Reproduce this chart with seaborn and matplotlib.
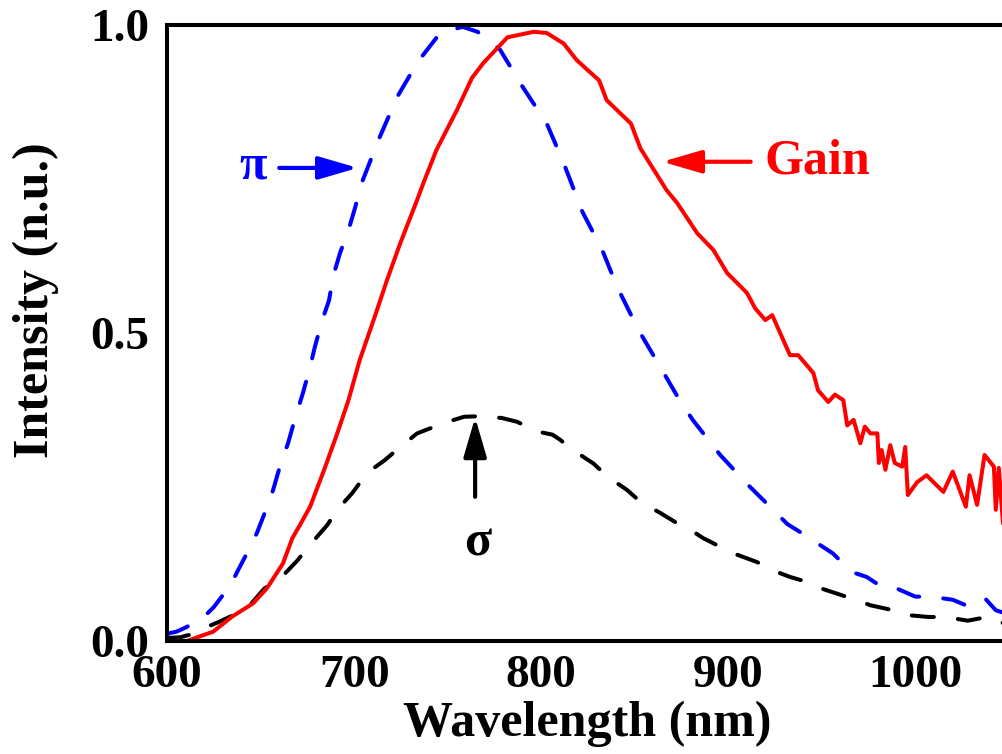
import matplotlib
matplotlib.use("Agg")
import matplotlib.pyplot as plt
import seaborn as sns

# ----- spectra -----
pi_wl = [600, 605, 610, 615, 619, 625, 630, 634, 638, 643, 648, 652.4, 656.7,
         660.6, 664.7, 668.5, 672.7, 676.5, 679, 683, 686.6, 689, 692.5, 697,
         700.5, 704, 713, 723, 734, 746, 758, 766, 778, 782, 790, 803, 812, 822,
         832.6, 840.6, 852, 863.6, 874, 881, 895.7, 910.7, 925, 931.5, 941, 949,
         956, 966, 974, 983, 991, 1000, 1008, 1020, 1027, 1037, 1043, 1048]
pi_int = [0.012, 0.015, 0.022, 0.03, 0.037, 0.055, 0.075, 0.091, 0.115, 0.144,
          0.175, 0.209, 0.245, 0.286, 0.321, 0.362, 0.403, 0.445, 0.477, 0.521,
          0.553, 0.594, 0.63, 0.667, 0.703, 0.743, 0.813, 0.883, 0.94, 0.987,
          0.997, 0.989, 0.96, 0.94, 0.90, 0.84, 0.776, 0.697, 0.635, 0.575,
          0.505, 0.445, 0.391, 0.359, 0.302, 0.253, 0.21, 0.19, 0.172, 0.156,
          0.142, 0.112, 0.104, 0.086, 0.084, 0.072, 0.072, 0.067, 0.058, 0.07,
          0.05, 0.045]

gain_wl = [610.7, 618, 624.6, 635, 646, 653.5, 662, 667, 671, 676.5, 684, 691,
           697, 703, 711, 717.6, 724.6, 733.7, 737, 744, 755, 763, 769, 782,
           796, 803, 812, 819, 831, 835, 848, 853, 867, 872.7, 883.4, 892,
           899.5, 904.8, 910, 914.4, 919.8, 923.5, 933, 937.4, 945.5, 948,
           953.5, 957, 961.5, 963.6, 967, 970.6, 973, 976, 979.7, 980.5, 982,
           984, 986.6, 989, 993, 994.6, 996, 1001, 1006, 1015, 1020, 1027,
           1029, 1033, 1037, 1042, 1043, 1044.6, 1047]
gain_int = [0.0, 0.008, 0.015, 0.04, 0.061, 0.086, 0.126, 0.167, 0.188, 0.218,
            0.278, 0.337, 0.391, 0.456, 0.526, 0.586, 0.645, 0.716, 0.743,
            0.797, 0.862, 0.914, 0.938, 0.98, 0.989, 0.987, 0.97, 0.943, 0.91,
            0.878, 0.84, 0.80, 0.732, 0.711, 0.662, 0.635, 0.597, 0.581, 0.565,
            0.54, 0.521, 0.529, 0.464, 0.464, 0.435, 0.407, 0.388, 0.40, 0.391,
            0.35, 0.359, 0.321, 0.348, 0.337, 0.337, 0.289, 0.31, 0.278, 0.318,
            0.289, 0.283, 0.315, 0.237, 0.258, 0.269, 0.242, 0.275, 0.218,
            0.269, 0.221, 0.302, 0.283, 0.213, 0.281, 0.185]

sigma_wl = [600, 607, 612, 619, 627, 639, 644, 652, 657, 660, 669.5, 677,
            685.6, 691, 699, 707, 716.6, 724.6, 733.7, 748, 758.8, 768, 779,
            787, 798, 806, 810, 817, 828, 835.8, 846, 853, 863.6, 871.7, 880,
            886.6, 897, 904.8, 915.5, 923.5, 933, 942, 949, 957, 968, 976, 988,
            996, 1007, 1015, 1020, 1028, 1038.5, 1045, 1048]
sigma_int = [0.005, 0.006, 0.01, 0.02, 0.03, 0.047, 0.057, 0.085, 0.095, 0.10,
             0.13, 0.158, 0.188, 0.213, 0.24, 0.273, 0.294, 0.315, 0.337,
             0.354, 0.364, 0.365, 0.362, 0.356, 0.34, 0.335, 0.327, 0.31,
             0.288, 0.266, 0.245, 0.226, 0.208, 0.193, 0.18, 0.167, 0.151,
             0.14, 0.128, 0.115, 0.104, 0.096, 0.086, 0.078, 0.067, 0.058,
             0.05, 0.042, 0.039, 0.039, 0.037, 0.033, 0.039, 0.031, 0.028]

x_ticks = [600, 700, 800, 900, 1000]
y_ticks = [0.0, 0.5, 1.0]

sns.set_style("white")
plt.rcParams['font.family'] = ['Liberation Serif', 'DejaVu Serif']
plt.rcParams['font.weight'] = 'bold'
plt.rcParams['axes.labelweight'] = 'bold'
plt.rcParams['text.color'] = 'black'
plt.rcParams['axes.labelcolor'] = 'black'
plt.rcParams['xtick.color'] = 'black'
plt.rcParams['ytick.color'] = 'black'

fig = plt.figure(figsize=(10.03, 7.54), dpi=100)
ax = fig.add_axes([167 / 1003, 113 / 754, 840 / 1003, 616 / 754])

dash = (0, (5.5, 6.0))
sns.lineplot(x=pi_wl, y=pi_int, ax=ax, color='#0000ff', linewidth=2.9,
             linestyle=dash, dash_capstyle='round')
sns.lineplot(x=sigma_wl, y=sigma_int, ax=ax, color='black', linewidth=2.9,
             linestyle=dash, dash_capstyle='round')
sns.lineplot(x=gain_wl, y=gain_int, ax=ax, color='#ff0000', linewidth=2.9)

ax.set_xlim(600, 1049)
ax.set_ylim(0, 1.0)
ax.set_xticks(x_ticks)
ax.set_xticklabels([str(t) for t in x_ticks])
ax.set_yticks(y_ticks)
ax.set_yticklabels([f"{t:.1f}" for t in y_ticks])

for s in ax.spines.values():
    s.set_linewidth(2.9)
    s.set_color('black')
ax.tick_params(direction='in', length=8.5, width=2.2, labelsize=34,
               colors='black', labelcolor='black')
ax.tick_params(axis='x', pad=10)
ax.tick_params(axis='y', pad=13)

ax.set_xlabel('Wavelength (nm)', fontsize=36, fontweight='bold',
              color='black')
ax.set_ylabel('Intensity (n.u.)', fontsize=36, fontweight='bold',
              color='black')
ax.xaxis.set_label_coords(0.5, -0.097)
ax.yaxis.set_label_coords(-0.128, 0.554)

# annotations
ax.text(646, 0.77, 'π', color='#0000ff', fontsize=36, fontweight='bold',
        ha='center', va='center')
ax.annotate('', xy=(702, 0.768), xytext=(660, 0.768),
            arrowprops=dict(arrowstyle='-|>,head_length=1.2,head_width=0.35',
                            color='#0000ff', lw=3, mutation_scale=20,
                            shrinkA=0, shrinkB=0))

ax.text(947.6, 0.778, 'Gain', color='#ff0000', fontsize=36,
        fontweight='bold', ha='center', va='center')
ax.annotate('', xy=(864.7, 0.778), xytext=(912, 0.778),
            arrowprops=dict(arrowstyle='-|>,head_length=1.2,head_width=0.35',
                            color='#ff0000', lw=3, mutation_scale=20,
                            shrinkA=0, shrinkB=0))

ax.text(766, 0.159, 'σ', color='black', fontsize=36, fontweight='bold',
        ha='center', va='center')
ax.annotate('', xy=(764.7, 0.363), xytext=(764.7, 0.234),
            arrowprops=dict(arrowstyle='-|>,head_length=1.2,head_width=0.35',
                            color='black', lw=3, mutation_scale=20,
                            shrinkA=0, shrinkB=0))

fig.savefig('out.png', dpi=100)
